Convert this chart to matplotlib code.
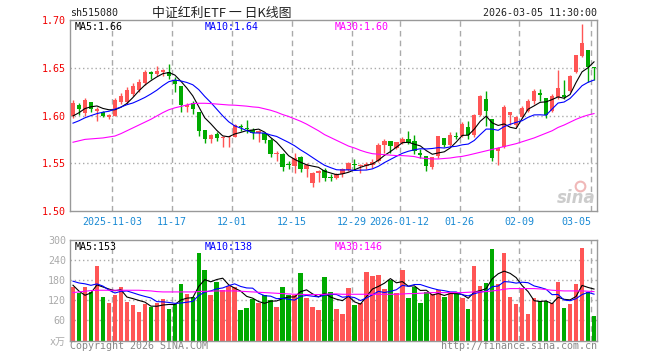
import matplotlib.pyplot as plt
import numpy as np
import pandas as pd
from matplotlib.lines import Line2D

plt.rcParams['font.family'] = ['DejaVu Sans Mono', 'Noto Sans CJK SC']

# daily bars 2025-10-23 .. 2026-03-05 (88 trading days)
opens = [1.600, 1.611, 1.603, 1.614, 1.605, 1.604, 1.598, 1.600, 1.614, 1.614,
         1.622, 1.627, 1.634, 1.646, 1.643, 1.646, 1.646, 1.637, 1.631, 1.609,
         1.613, 1.604, 1.585, 1.575, 1.5806, 1.5764, 1.577, 1.578, 1.589, 1.5873,
         1.5848, 1.582, 1.5813, 1.5743, 1.560, 1.5597, 1.5485, 1.5471, 1.5569, 1.5443,
         1.5297, 1.5394, 1.543, 1.536, 1.5345, 1.5388, 1.543, 1.549, 1.547, 1.547,
         1.548, 1.5527, 1.5691, 1.5733, 1.5657, 1.5709, 1.5751, 1.5733, 1.561, 1.5576,
         1.5458, 1.5576, 1.5761, 1.5691, 1.5785, 1.5785, 1.5876, 1.5793, 1.6008, 1.6173,
         1.5967, 1.5628, 1.5667, 1.6008, 1.5904, 1.5984, 1.605, 1.6149, 1.6236, 1.6183,
         1.605, 1.6194, 1.6211, 1.626, 1.6455, 1.662, 1.6689, 1.6505]
highs = [1.616, 1.613, 1.618, 1.614, 1.609, 1.605, 1.602, 1.618, 1.624, 1.630,
         1.634, 1.638, 1.648, 1.647, 1.652, 1.649, 1.654, 1.640, 1.631, 1.613,
         1.615, 1.604, 1.585, 1.581, 1.583, 1.579, 1.579, 1.591, 1.591, 1.5953,
         1.587, 1.585, 1.582, 1.576, 1.5625, 1.561, 1.552, 1.5604, 1.558, 1.550,
         1.541, 1.543, 1.545, 1.539, 1.540, 1.5447, 1.551, 1.5541, 1.549, 1.551,
         1.554, 1.5709, 1.575, 1.5733, 1.5726, 1.577, 1.584, 1.5792, 1.565, 1.5576,
         1.5569, 1.5785, 1.5761, 1.5827, 1.583, 1.5932, 1.5939, 1.6015, 1.6217, 1.626,
         1.5967, 1.5665, 1.6107, 1.604, 1.600, 1.6096, 1.6173, 1.628, 1.628, 1.6183,
         1.6225, 1.648, 1.6375, 1.6426, 1.6637, 1.6958, 1.6689, 1.6505]
lows = [1.597, 1.601, 1.600, 1.604, 1.594, 1.598, 1.596, 1.599, 1.612, 1.612,
        1.620, 1.625, 1.632, 1.638, 1.641, 1.641, 1.638, 1.625, 1.604, 1.604,
        1.602, 1.579, 1.571, 1.571, 1.573, 1.567, 1.567, 1.577, 1.584, 1.5813,
        1.575, 1.572, 1.571, 1.557, 1.5527, 1.5422, 1.544, 1.5394, 1.541, 1.536,
        1.5255, 1.5306, 1.531, 1.531, 1.534, 1.536, 1.5415, 1.543, 1.540, 1.544,
        1.545, 1.5517, 1.561, 1.561, 1.5647, 1.570, 1.570, 1.5597, 1.555, 1.5422,
        1.5437, 1.556, 1.5667, 1.568, 1.575, 1.578, 1.5757, 1.578, 1.600, 1.5887,
        1.552, 1.5485, 1.566, 1.5904, 1.588, 1.5974, 1.6036, 1.612, 1.6155, 1.597,
        1.6036, 1.6175, 1.6173, 1.625, 1.6444, 1.6612, 1.635, 1.6375]
closes = [1.613, 1.607, 1.616, 1.607, 1.607, 1.600, 1.600, 1.616, 1.620, 1.627,
          1.631, 1.635, 1.646, 1.643, 1.647, 1.648, 1.641, 1.633, 1.611, 1.611,
          1.607, 1.584, 1.575, 1.580, 1.5764, 1.578, 1.579, 1.590, 1.588, 1.5859,
          1.5813, 1.5835, 1.5743, 1.5597, 1.5612, 1.5464, 1.548, 1.5552, 1.5443, 1.548,
          1.5394, 1.5418, 1.535, 1.535, 1.539, 1.5437, 1.550, 1.548, 1.548, 1.549,
          1.5516, 1.5691, 1.5733, 1.568, 1.5719, 1.5751, 1.5716, 1.5632, 1.559, 1.5471,
          1.5562, 1.5785, 1.5691, 1.5796, 1.578, 1.5908, 1.5793, 1.6008, 1.6207, 1.605,
          1.5555, 1.566, 1.6086, 1.6033, 1.5984, 1.6079, 1.6149, 1.626, 1.6218, 1.6008,
          1.620, 1.6288, 1.619, 1.641, 1.6637, 1.6759, 1.6505, 1.6497]
volumes = [160, 142, 160, 145, 223, 129, 111, 135, 160, 114,
           105, 84, 110, 100, 112, 123, 93, 108, 168, 140,
           130, 261, 210, 135, 174, 150, 162, 161, 90, 96,
           123, 111, 135, 122, 99, 159, 135, 135, 201, 126,
           99, 90, 189, 145, 93, 78, 156, 105, 111, 204,
           192, 195, 153, 180, 141, 210, 126, 159, 111, 144,
           138, 150, 129, 141, 141, 126, 93, 222, 162, 171,
           273, 168, 261, 129, 108, 153, 78, 126, 117, 117,
           111, 174, 96, 108, 168, 276, 144, 72]
# closes / volumes of the days just before the window (for MA5 / MA10)
pre_close = [1.582, 1.585, 1.584, 1.586, 1.5855, 1.590, 1.594, 1.598, 1.6025]
pre_vol = [195, 185, 190, 180, 195, 230, 222, 110, 103]
# MA30
ma30_price = [1.572, 1.5735, 1.575, 1.5755, 1.576, 1.5765, 1.5775, 1.5785, 1.581, 1.584,
              1.587, 1.590, 1.593, 1.596, 1.5995, 1.603, 1.606, 1.608, 1.6095, 1.611,
              1.6125, 1.6128, 1.6128, 1.6125, 1.612, 1.6115, 1.611, 1.6108, 1.6103, 1.6098,
              1.609, 1.6085, 1.607, 1.6055, 1.6035, 1.601, 1.599, 1.5965, 1.594, 1.591,
              1.5875, 1.584, 1.580, 1.577, 1.574, 1.571, 1.568, 1.566, 1.5635, 1.5615,
              1.560, 1.5595, 1.559, 1.5585, 1.558, 1.558, 1.5576, 1.557, 1.5555, 1.555,
              1.5545, 1.5545, 1.555, 1.5555, 1.5565, 1.5572, 1.5585, 1.560, 1.5615, 1.563,
              1.5645, 1.566, 1.5675, 1.569, 1.5705, 1.5725, 1.5745, 1.5765, 1.579, 1.5815,
              1.584, 1.5875, 1.590, 1.593, 1.596, 1.5985, 1.6005, 1.602]
ma30_vol = [143, 145, 147, 149, 150, 150, 150, 150, 150, 150,
            150, 150, 149, 148, 146, 145, 145, 145, 145, 145,
            145, 146, 147, 147, 148, 148, 148, 148, 147, 146,
            145, 144, 143, 142, 141, 140, 139, 138, 138, 137,
            137, 137, 138, 139, 139, 138, 138, 138, 138, 138,
            138, 138, 138, 138, 138, 139, 140, 140, 141, 142,
            143, 143, 143, 143, 143, 143, 144, 145, 145, 146,
            148, 150, 153, 155, 155, 155, 155, 155, 154, 152,
            150, 149, 148, 148, 148, 148, 147, 146]

tick_idx = [7, 17, 27, 37, 47, 55, 65, 75, 87]
tick_labels = ['2025-11-03', '11-17', '12-01', '12-15', '12-29',
               '2026-01-12', '01-26', '02-09', '03-05']
price_ticks = [1.50, 1.55, 1.60, 1.65, 1.70]
vol_ticks = [0, 60, 120, 180, 240, 300]

RED = '#ff5555'
GREEN = '#00aa00'
GRID = '#aaaaaa'
W, H = 660, 360

o = np.array(opens); hi = np.array(highs); lo = np.array(lows); c = np.array(closes)
v = np.array(volumes)
n = len(c)
x = np.arange(n)
up = c >= o
cols = np.where(up, RED, GREEN)

cs = pd.Series(pre_close + closes)
ma5 = cs.rolling(5).mean().to_numpy()[len(pre_close):]
ma10 = cs.rolling(10).mean().to_numpy()[len(pre_close):]
vs = pd.Series(pre_vol + volumes)
vma5 = vs.rolling(5).mean().to_numpy()[len(pre_vol):]
vma10 = vs.rolling(10).mean().to_numpy()[len(pre_vol):]


def fx(px):
    return px / W


def fy(py):
    return 1 - py / H


fig = plt.figure(figsize=(6.6, 3.6), dpi=100)
ax = fig.add_axes([fx(70), fy(211), 527 / W, 191 / H])
axv = fig.add_axes([fx(70), fy(340.5), 527 / W, 100.5 / H])

# price panel
ax.vlines(x, lo, hi, colors=cols, lw=1, zorder=3)
body_h = np.maximum(np.abs(c - o), 0.0007)
ax.bar(x, body_h, bottom=np.minimum(o, c), width=0.72, color=cols, lw=0, zorder=3)
ax.plot(x, ma5, color='black', lw=0.8, zorder=4)
ax.plot(x, ma10, color='#0000ff', lw=0.8, zorder=4)
ax.plot(x, ma30_price, color='#ff00ff', lw=0.8, zorder=4)
ax.set_xlim(-0.5, n - 0.5)
ax.set_ylim(1.50, 1.70)

# volume panel
axv.bar(x, v, width=0.75, color=cols, lw=0, zorder=2)
axv.plot(x, vma5, color='black', lw=0.8, zorder=4)
axv.plot(x, vma10, color='#0000ff', lw=0.8, zorder=4)
axv.plot(x, ma30_vol, color='#ff00ff', lw=0.8, zorder=4)
axv.set_xlim(-0.5, n - 0.5)
axv.set_ylim(0, 300)

for a, hticks in ((ax, price_ticks[1:-1]), (axv, vol_ticks[1:-1])):
    for t in hticks:
        a.axhline(t, color=GRID, lw=1, ls=(0, (1, 2)), zorder=1)
    for t in tick_idx:
        a.axvline(t - 0.45, color=GRID, lw=1, ls=(0, (4, 3)), zorder=1)
    for s in a.spines.values():
        s.set_color('#999999')
        s.set_linewidth(1)
    a.set_xticks([])
    a.tick_params(axis='y', length=0, labelsize=7.2, pad=3)

ax.set_yticks(price_ticks)
ax.set_yticklabels(['%.2f' % t for t in price_ticks], color='#f00000')
axv.set_yticks(vol_ticks)
axv.set_yticklabels(['x万'] + [str(t) for t in vol_ticks[1:]], color='#aaaaaa')

for i, (t, lab) in enumerate(zip(tick_idx, tick_labels)):
    ha = 'right' if i == len(tick_idx) - 1 else 'center'
    ax.text(t - 0.45, -0.058, lab, transform=ax.get_xaxis_transform(),
            ha=ha, va='center', fontsize=7.2, color='#1a8ad4')

# header
fig.text(fx(70), fy(13), 'sh515080', ha='left', va='center', fontsize=7.2, color='#222222')
fig.text(fx(222), fy(13), '中证红利ETF 一 日K线图', ha='center', va='center',
         fontsize=9.3, color='#222222', family=['Noto Sans CJK SC', 'DejaVu Sans'])
fig.text(fx(597), fy(13), '2026-03-05 11:30:00', ha='right', va='center',
         fontsize=7.2, color='#222222')

# legends
for px0, txt, col in ((75, 'MA5:1.66', 'black'), (205, 'MA10:1.64', '#0000ff'),
                      (335, 'MA30:1.60', '#ff00ff')):
    fig.text(fx(px0), fy(26.5), txt, ha='left', va='center', fontsize=7.2, color=col)
for px0, txt, col in ((75, 'MA5:153', 'black'), (205, 'MA10:138', '#0000ff'),
                      (335, 'MA30:146', '#ff00ff')):
    fig.text(fx(px0), fy(246.5), txt, ha='left', va='center', fontsize=7.2, color=col)

# footer + watermark
fig.text(fx(70), fy(346), 'Copyright 2026 SINA.COM', ha='left', va='center',
         fontsize=7.2, color='#888888')
fig.text(fx(597), fy(346), 'http://finance.sina.com.cn', ha='right', va='center',
         fontsize=7.2, color='#888888')
fig.text(fx(596), fy(198), 'sina', ha='right', va='center', fontsize=12,
         color='#cccccc', style='italic', weight='bold', family='DejaVu Sans')
fig.add_artist(Line2D([fx(580)], [fy(186)], marker='o', ms=7, mfc='none',
                      mec='#f0b8b8', mew=1.5, transform=fig.transFigure))

fig.savefig('out.png', dpi=100)
